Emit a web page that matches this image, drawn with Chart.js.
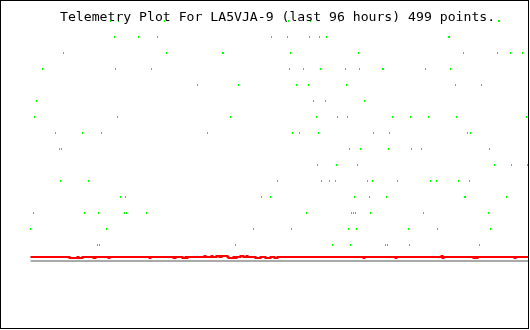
<!DOCTYPE html>
<html>
<head>
<meta charset="utf-8">
<script src="https://cdn.jsdelivr.net/npm/chart.js@4/dist/chart.umd.min.js"></script>
<style>
    html, body { margin: 0; padding: 0; background: #fff; }
    #wrap { position: relative; width: 530px; height: 330px; }
    #plot { position: absolute; left: 0; top: 0; }
    #title {
        position: absolute; left: 60px; top: 9px;
        font-family: "DejaVu Sans Mono", "Liberation Mono", monospace;
        font-size: 13.15px; line-height: 16px; color: #000;
        white-space: pre; pointer-events: none;
    }
</style>
</head>
<body>
<div id="wrap">
    <canvas id="plot" width="530" height="330"></canvas>
    <div id="title">Telemetry Plot For LA5VJA-9 (last 96 hours) 499 points.</div>
</div>
<script>
// Sample index runs 0..498 over the last 96 hours
const SAMPLE_COUNT = 499;

// Green channel: sample index and quantised level (one line per level)
const greenSample = [
    80, 88, 134, 258, 280, 309, 468, 469,
    84, 108, 127, 241, 257, 279, 289, 296, 418, 419,
    33, 136, 192, 193, 260, 328, 433, 467, 480, 492,
    12, 85, 121, 259, 273, 290, 315, 329, 352, 353, 395, 420,
    167, 208, 266, 278, 316, 425, 451,
    6, 283, 295, 334,
    4, 87, 200, 286, 307, 317, 362, 380, 398, 426, 496,
    25, 52, 71, 177, 262, 269, 288, 343, 359, 437, 440,
    29, 31, 319, 330, 358, 381, 391, 459,
    287, 306, 327, 464, 481, 497,
    30, 58, 247, 291, 299, 305, 337, 342, 367, 400, 406, 428, 439,
    90, 95, 231, 240, 324, 339, 356, 434, 435, 476,
    3, 54, 68, 94, 96, 116, 276, 321, 323, 325, 340, 393, 458,
    0, 76, 223, 261, 318, 326, 378, 407, 460,
    67, 69, 205, 302, 320, 355, 357, 379, 449
];
const greenLevel = [
    14, 14, 14, 14, 14, 14, 14, 14,
    13, 13, 13, 13, 13, 13, 13, 13, 13, 13,
    12, 12, 12, 12, 12, 12, 12, 12, 12, 12,
    11, 11, 11, 11, 11, 11, 11, 11, 11, 11, 11, 11,
    10, 10, 10, 10, 10, 10, 10,
    9, 9, 9, 9,
    8, 8, 8, 8, 8, 8, 8, 8, 8, 8, 8,
    7, 7, 7, 7, 7, 7, 7, 7, 7, 7, 7,
    6, 6, 6, 6, 6, 6, 6, 6,
    5, 5, 5, 5, 5, 5,
    4, 4, 4, 4, 4, 4, 4, 4, 4, 4, 4, 4, 4,
    3, 3, 3, 3, 3, 3, 3, 3, 3, 3,
    2, 2, 2, 2, 2, 2, 2, 2, 2, 2, 2, 2, 2,
    1, 1, 1, 1, 1, 1, 1, 1, 1,
    0, 0, 0, 0, 0, 0, 0, 0, 0
];

// Red channel: sample index where the value changes, and the value held from there
const redSample = [
    0, 39, 47, 48, 52, 63, 65, 78, 79, 119, 120, 143, 145, 152, 155, 156, 157,
    174, 175, 181, 182, 186, 189, 191, 197, 198, 203, 205, 206, 210, 213, 216, 217,
    225, 230, 235, 240, 244, 247, 333, 334, 365, 366, 411, 412, 413,
    443, 444, 446, 447, 484, 485, 498
];
const redValue = [
    -0.75, -0.8125, -0.75, -0.8125, -0.75, -0.8125, -0.75, -0.8125, -0.75, -0.8125, -0.75, -0.8125, -0.75, -0.8125, -0.75, -0.8125, -0.75,
    -0.6875, -0.75, -0.6875, -0.75, -0.6875, -0.75, -0.6875, -0.75, -0.8125, -0.75, -0.8125, -0.75, -0.6875, -0.75, -0.6875, -0.75,
    -0.8125, -0.75, -0.8125, -0.75, -0.8125, -0.75, -0.8125, -0.75, -0.8125, -0.75, -0.6875, -0.8125, -0.75,
    -0.8125, -0.75, -0.8125, -0.75, -0.8125, -0.75, -0.75
];

// Grey channel: flat
const greySample = [0, 498];
const greyValue = [-1, -1];

function toPoints(xs, ys) {
    return xs.map((x, i) => ({ x: x, y: ys[i] }));
}

// 1x2 pixel green marker, like the original plot
const greenDot = document.createElement('canvas');
greenDot.width = 1;
greenDot.height = 2;
const dotCtx = greenDot.getContext('2d');
dotCtx.fillStyle = '#00ff00';
dotCtx.fillRect(0, 0, 1, 2);

const frame = {
    id: 'frame',
    beforeDraw(chart) {
        const ctx = chart.ctx;
        ctx.save();
        ctx.fillStyle = '#ffffff';
        ctx.fillRect(0, 0, chart.width, chart.height);
        ctx.restore();
    },
    beforeDatasetsDraw(chart) {
        chart.ctx.imageSmoothingEnabled = false;
    },
    afterDraw(chart) {
        const ctx = chart.ctx;
        ctx.save();
        ctx.strokeStyle = '#000000';
        ctx.lineWidth = 1;
        ctx.strokeRect(0.5, 0.5, 528, 328);
        ctx.restore();
    }
};

new Chart(document.getElementById('plot'), {
    type: 'scatter',
    data: {
        datasets: [
            {
                label: 'green',
                data: toPoints(greenSample, greenLevel),
                pointStyle: greenDot,
                pointRadius: 1,
                showLine: false
            },
            {
                label: 'red',
                data: toPoints(redSample, redValue),
                showLine: true,
                stepped: true,
                borderColor: '#ff0000',
                borderWidth: 2,
                pointRadius: 0
            },
            {
                label: 'grey',
                data: toPoints(greySample, greyValue),
                showLine: true,
                borderColor: '#aaaaaa',
                borderWidth: 2,
                pointRadius: 0
            }
        ]
    },
    options: {
        responsive: false,
        animation: false,
        devicePixelRatio: 1,
        layout: { padding: 0, autoPadding: false },
        plugins: {
            legend: { display: false },
            tooltip: { enabled: false },
            title: { display: false }
        },
        scales: {
            x: { type: 'linear', display: false, min: -30.5, max: SAMPLE_COUNT + 0.5 },
            y: { type: 'linear', display: false, min: -5.3125, max: 15.3125 }
        }
    },
    plugins: [frame]
});
</script>
</body>
</html>
